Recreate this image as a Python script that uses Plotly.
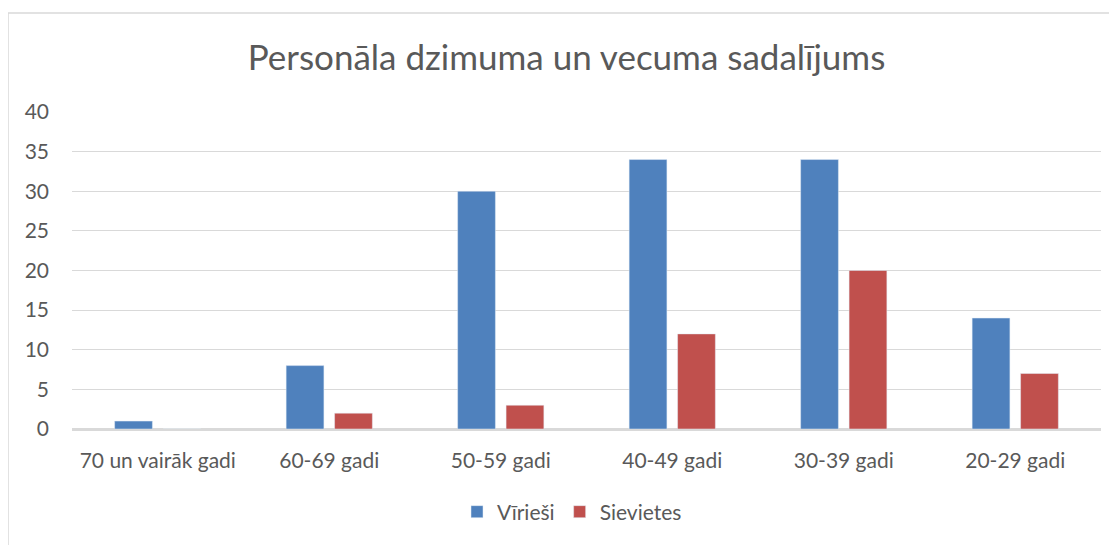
import plotly.graph_objects as go

categories = ["70 un vairāk gadi", "60-69 gadi", "50-59 gadi", "40-49 gadi", "30-39 gadi", "20-29 gadi"]
virieši = [1, 8, 30, 34, 34, 14]
sievietes = [0, 2, 3, 12, 20, 7]
y_ticks = [0, 5, 10, 15, 20, 25, 30, 35, 40]

FONT = "Lato, 'Open Sans', sans-serif"
TXT = "#595959"

fig = go.Figure()
fig.add_trace(go.Bar(name="Vīrieši", x=categories, y=virieši, marker_color="#4F81BD"))
fig.add_trace(go.Bar(name="Sievietes", x=categories, y=sievietes, marker_color="#C0504D"))

OFF = 8  # page body margin
W, H = 1117, 545
L, R, T, B = 72 - OFF, 24, 112 - OFF, 124
pw = W - L - R
ph = H - T - B

def px_x(x):
    return (x - OFF - L) / pw

def px_y(y):
    return (H - B - (y - OFF)) / ph

fig.update_layout(
    width=W, height=H,
    margin=dict(l=L, r=R, t=T, b=B),
    paper_bgcolor="white", plot_bgcolor="white",
    barmode="group", bargap=0.435, bargroupgap=0.22,
    font=dict(family=FONT, color=TXT, size=20),
    title=dict(text="Personāla dzimuma un vecuma sadalījums", x=0.5, xanchor="center",
               y=1 - (58 - OFF) / H, yanchor="middle", font=dict(size=35, color=TXT, family=FONT)),
    legend=dict(orientation="h", x=px_x(572), xanchor="center", y=px_y(512), yanchor="middle",
                font=dict(size=21, color=TXT), itemwidth=30, traceorder="normal"),
    showlegend=True,
    shapes=[dict(type="rect", xref="paper", yref="paper",
                 x0=px_x(8), x1=px_x(1130), y0=px_y(570), y1=px_y(13),
                 line=dict(color="#D9D9D9", width=1.5), fillcolor="rgba(0,0,0,0)", layer="below")],
)
fig.update_yaxes(range=[0, 40], tickvals=y_ticks, showgrid=True, gridcolor="#D9D9D9", gridwidth=1,
                 zeroline=True, zerolinecolor="#D9D9D9", zerolinewidth=1.5, showline=False,
                 ticks="", ticklabelstandoff=22, tickfont=dict(size=21, color=TXT))
fig.update_xaxes(showline=True, linecolor="#D9D9D9", linewidth=1.5, ticks="",
                 tickfont=dict(size=21, color=TXT), ticklabelstandoff=12)

fig.write_html("out.html")
